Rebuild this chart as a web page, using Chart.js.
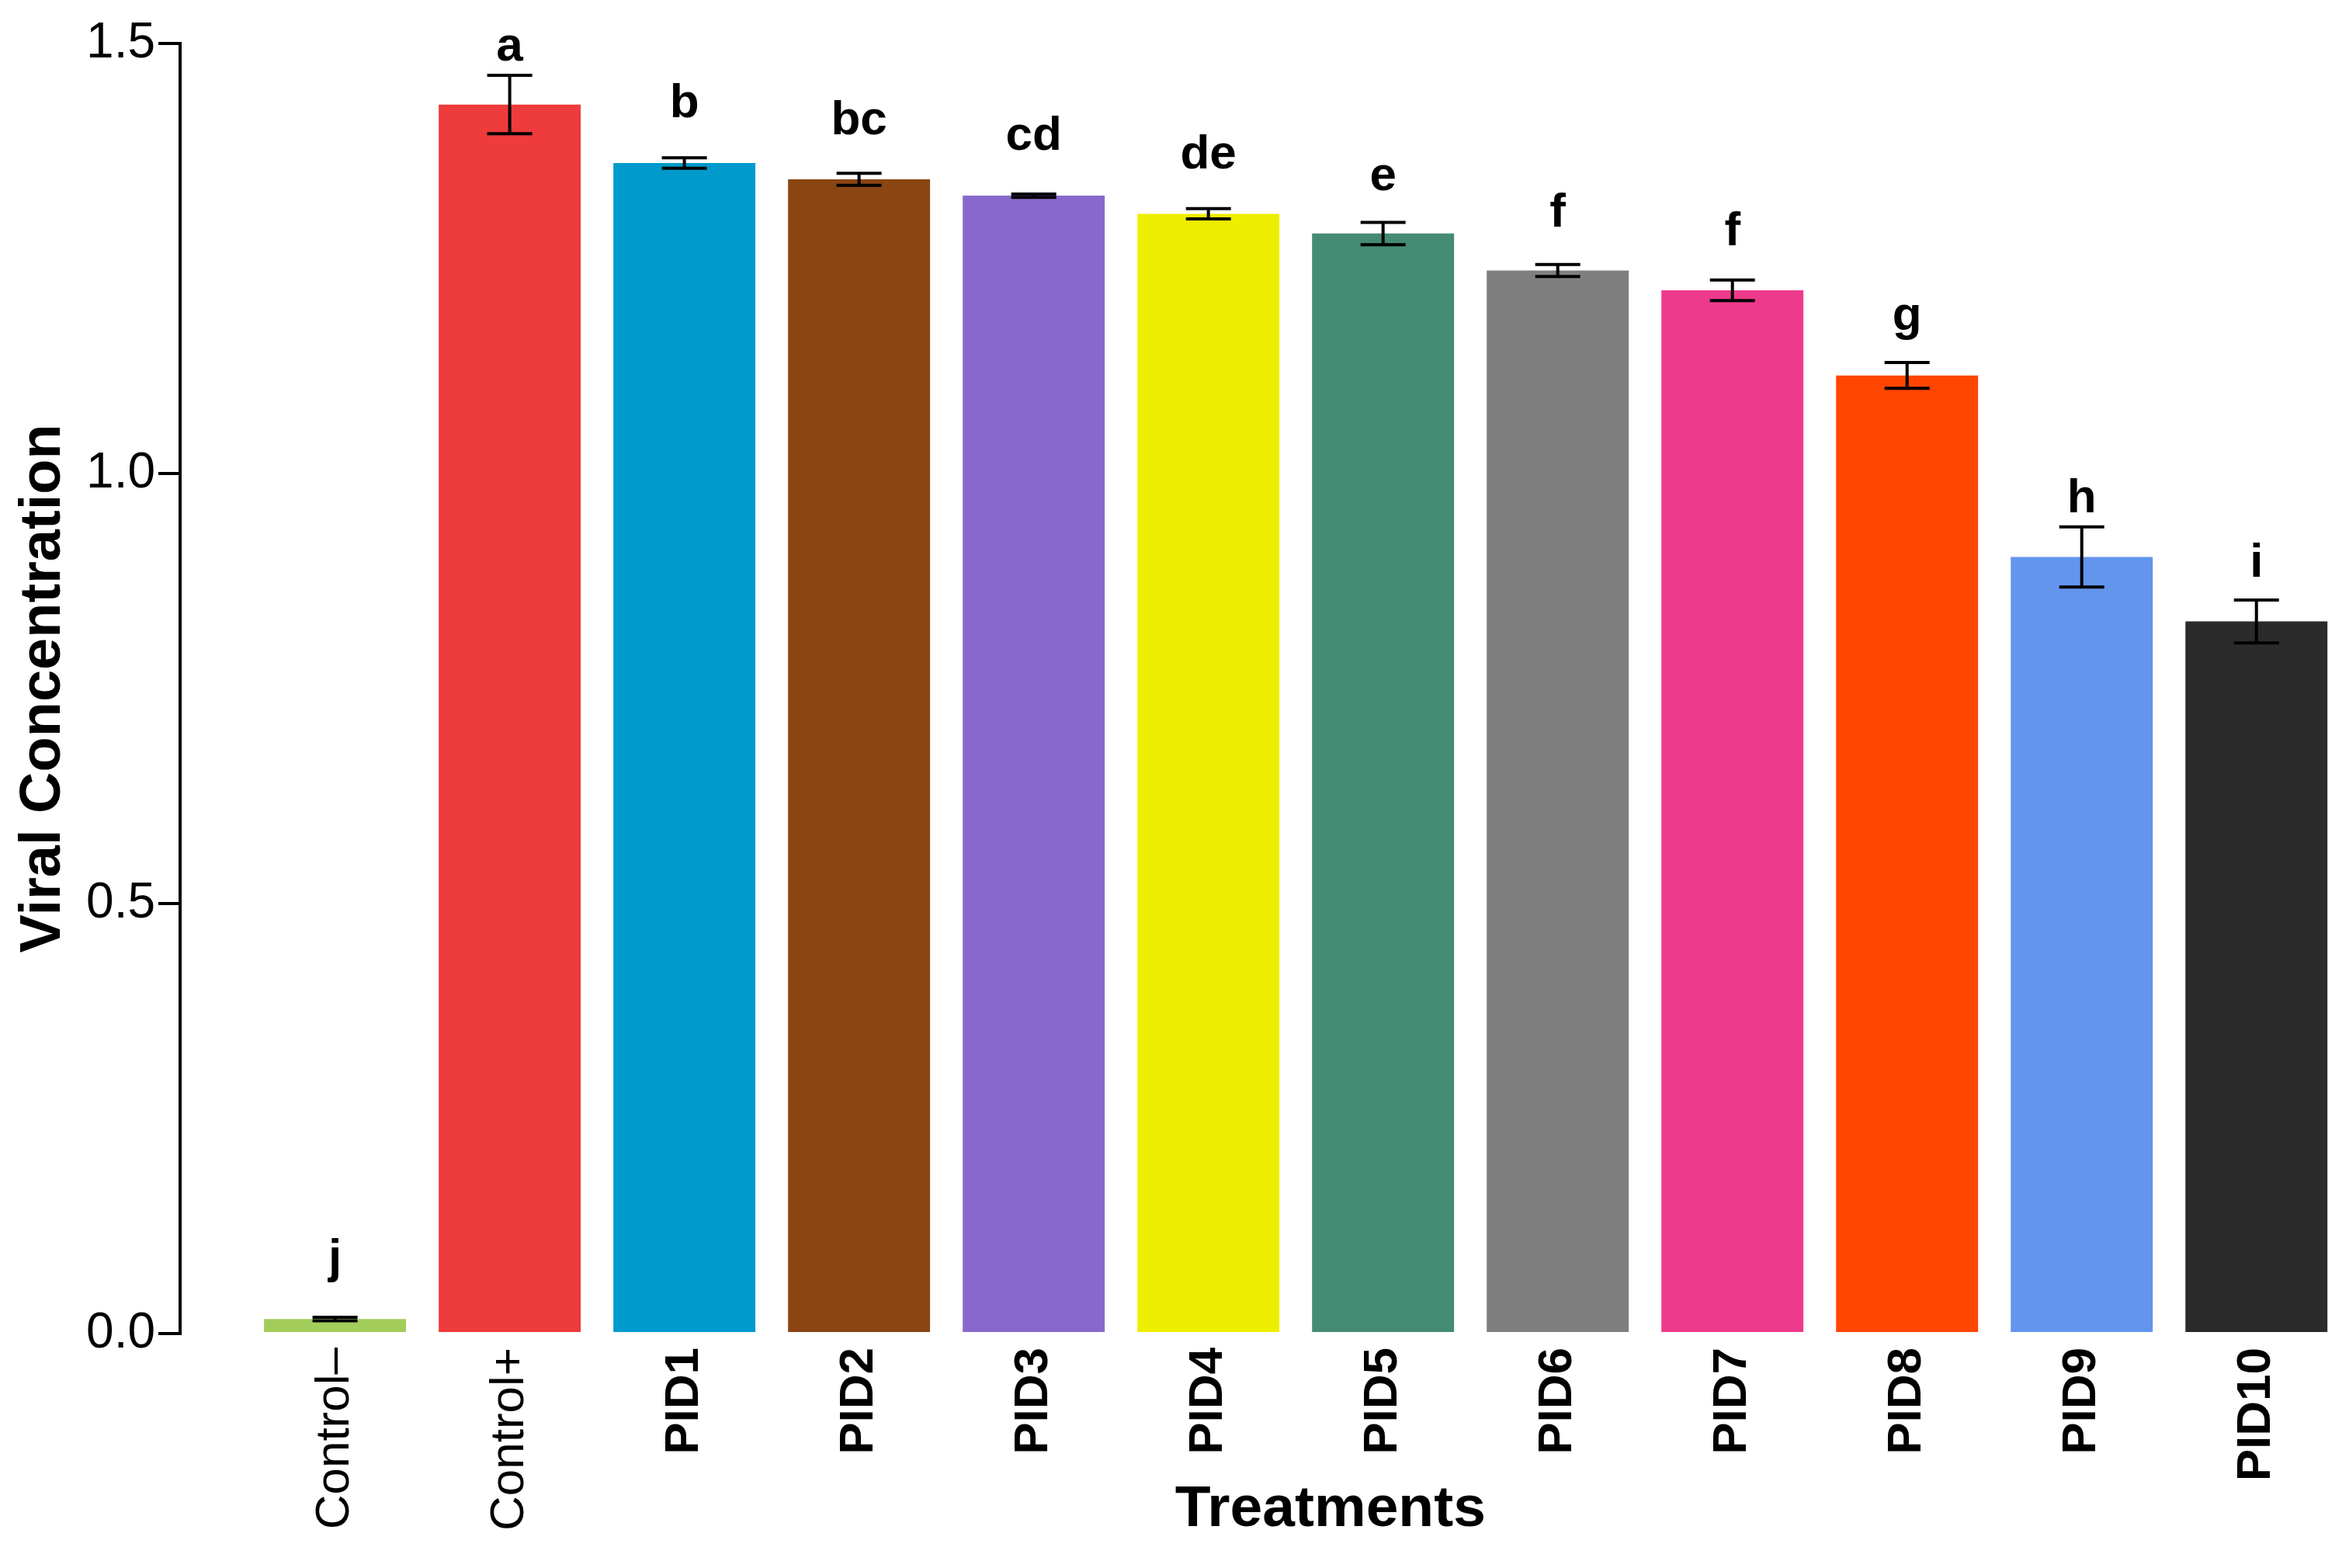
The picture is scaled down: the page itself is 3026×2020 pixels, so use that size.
<!DOCTYPE html>
<html>
<head>
<meta charset="utf-8">
<script src="https://cdn.jsdelivr.net/npm/chart.js@4.4.1/dist/chart.umd.min.js"></script>
<style>
    html, body { margin: 0; padding: 0; background: #fff; overflow: hidden; }
    canvas { display: block; }
</style>
</head>
<body>
<canvas id="viral_chart" width="3026" height="2020"></canvas>
<script>
    // data
    var treatments = ["Control\u2013", "Control+", "PID1", "PID2", "PID3", "PID4", "PID5", "PID6", "PID7", "PID8", "PID9", "PID10"];
    var means = [0.017, 1.429, 1.361, 1.342, 1.323, 1.302, 1.279, 1.236, 1.213, 1.114, 0.903, 0.828];
    var errors = [0.002, 0.034, 0.006, 0.007, 0.002, 0.006, 0.013, 0.007, 0.012, 0.015, 0.035, 0.025];
    var letters = ["j", "a", "b", "bc", "cd", "de", "e", "f", "f", "g", "h", "i"];
    var letterY = [0.071, 1.480, 1.414, 1.394, 1.376, 1.355, 1.329, 1.287, 1.265, 1.167, 0.955, 0.880];
    var yTicks = [0, 0.5, 1.0, 1.5];
    var barColors = ["#A2CD5A", "#EE3B3B", "#009ACD", "#8B4513", "#8968CD", "#EEEE00",
                     "#458B74", "#7F7F7F", "#EE3A8C", "#FF4500", "#6495ED", "#2B2B2B"];

    var FONT = "'Liberation Sans', Arial, Helvetica, sans-serif";

    // error bars + significance letters
    var errorBarPlugin = {
        id: 'errorBars',
        afterDatasetsDraw: function (chart) {
            var ctx = chart.ctx;
            var xs = chart.scales.x;
            var ys = chart.scales.y;
            ctx.save();
            ctx.strokeStyle = "#000";
            ctx.lineWidth = 4;
            ctx.lineCap = "butt";
            for (var i = 0; i < means.length; i++) {
                var x = xs.getPixelForValue(i);
                var yt = ys.getPixelForValue(means[i] + errors[i]);
                var yb = ys.getPixelForValue(means[i] - errors[i]);
                ctx.beginPath();
                ctx.moveTo(x, yt); ctx.lineTo(x, yb);
                ctx.moveTo(x - 29, yt); ctx.lineTo(x + 29, yt);
                ctx.moveTo(x - 29, yb); ctx.lineTo(x + 29, yb);
                ctx.stroke();
            }
            ctx.fillStyle = "#000";
            ctx.font = "bold 62px " + FONT;
            ctx.textAlign = "center";
            ctx.textBaseline = "alphabetic";
            for (var j = 0; j < letters.length; j++) {
                ctx.fillText(letters[j], xs.getPixelForValue(j), ys.getPixelForValue(letterY[j]));
            }
            ctx.restore();
        }
    };

    new Chart(document.getElementById("viral_chart").getContext("2d"), {
        type: 'bar',
        data: {
            datasets: [{
                data: means.map(function (v, i) { return {x: i, y: v}; }),
                backgroundColor: barColors,
                borderWidth: 0,
                categoryPercentage: 0.813,
                barPercentage: 1.0
            }]
        },
        options: {
            responsive: false,
            animation: false,
            devicePixelRatio: 1,
            layout: {padding: {top: 56, right: 18, left: 0, bottom: 0}},
            plugins: {
                legend: {display: false},
                tooltip: {enabled: false}
            },
            scales: {
                x: {
                    type: 'linear',
                    offset: false,
                    min: -0.887,
                    max: 11.45,
                    grid: {display: false, drawTicks: false},
                    border: {display: false},
                    afterBuildTicks: function (axis) {
                        axis.ticks = treatments.map(function (t, i) { return {value: i}; });
                    },
                    afterFit: function (scale) {
                        scale.height = 302;
                    },
                    ticks: {
                        autoSkip: false,
                        minRotation: 90,
                        maxRotation: 90,
                        padding: 18,
                        color: "#000",
                        font: function (c) {
                            var idx = c.tick ? c.tick.value : 2;
                            return {family: FONT, size: 62, weight: idx < 2 ? 'normal' : 'bold'};
                        },
                        callback: function (v) { return treatments[v]; }
                    },
                    title: {
                        display: true,
                        // leading spaces nudge the title right, as in the figure
                        text: "         Treatments",
                        color: "#000",
                        font: {family: FONT, size: 75, weight: 'bold'},
                        padding: {top: 0, bottom: 30}
                    }
                },
                y: {
                    min: 0,
                    max: 1.5,
                    afterBuildTicks: function (axis) {
                        axis.ticks = yTicks.map(function (v) { return {value: v}; });
                    },
                    afterFit: function (scale) {
                        scale.width = 232;
                    },
                    grid: {
                        drawOnChartArea: false,
                        drawTicks: true,
                        tickLength: 28,
                        color: "#000",
                        lineWidth: 4
                    },
                    border: {display: true, color: "#000", width: 4},
                    ticks: {
                        padding: 4,
                        color: "#000",
                        font: {family: FONT, size: 64},
                        callback: function (v) { return Number(v).toFixed(1); }
                    },
                    title: {
                        display: true,
                        text: "Viral Concentration",
                        color: "#000",
                        font: {family: FONT, size: 74, weight: 'bold'},
                        padding: {top: 12, bottom: 0}
                    }
                }
            }
        },
        plugins: [errorBarPlugin]
    });
</script>
</body>
</html>
